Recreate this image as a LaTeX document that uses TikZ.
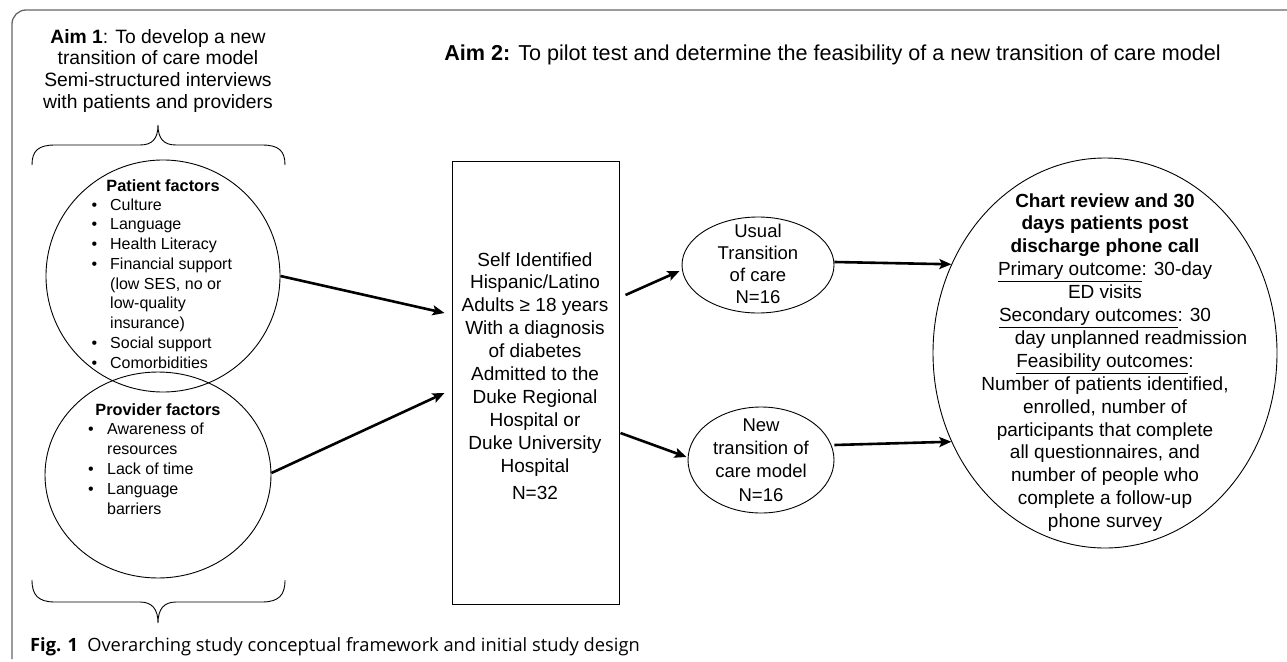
\documentclass[tikz,border=0pt]{standalone}
\usepackage{fontspec}
\setmainfont{Liberation Sans}
\newfontfamily\capfont{Open Sans}
\usetikzlibrary{shapes.geometric,arrows.meta}
\begin{document}
\begin{tikzpicture}[x=1pt,y=-1pt,
  ell/.style={draw,ellipse,line width=0.9pt,inner sep=0pt},
  arr/.style={line width=2.6pt,-{Stealth[length=12pt,width=10pt,inset=2.5pt]}},
  txt/.style={inner sep=0pt,align=center,anchor=north},
  lst/.style={inner sep=0pt,align=left,anchor=north west},
  brace/.style={line width=0.9pt},
  frame/.style={draw=black!60,line width=1.3pt}
]
\useasboundingbox (0,0) rectangle (1287,661);
% frame
\draw[frame,rounded corners=14pt] (12,659) -- (12,10) -- (1288,10);

% Aim texts
\node[txt,font=\fontsize{19.3}{21.7}\selectfont] (aim1) at (158,29.1)
  {\textbf{Aim 1}: To develop a new\\transition of care model\\Semi-structured interviews\\with patients and providers};
\node[inner sep=0pt,anchor=base,font=\fontsize{21.6}{24}\selectfont] (aim2) at (832.5,60)
  {\textbf{Aim 2:} To pilot test and determine the feasibility of a new transition of care model};

% braces
\draw[brace] (32,165) .. controls (32,151) and (38,145) .. (55,145) -- (140,145)
  .. controls (152,145) and (158,139) .. (158,125)
  .. controls (158,139) and (164,145) .. (176,145) -- (262,145)
  .. controls (279,145) and (285,151) .. (285,165);
\draw[brace] (32,580) .. controls (32,595) and (38,602) .. (55,602) -- (140,602)
  .. controls (152,602) and (158,609) .. (158,623)
  .. controls (158,609) and (164,602) .. (176,602) -- (262,602)
  .. controls (279,602) and (285,595) .. (285,580);

% patient / provider circles
\node[ell,minimum width=234pt,minimum height=232pt] (pc) at (163,276) {};
\node[ell,minimum width=226pt,minimum height=206pt] (pv) at (158,475) {};

\node[inner sep=0pt,anchor=base,font=\fontsize{16.3}{19}\selectfont\bfseries] (pctitle) at (163,191.9) {Patient factors};
\node[lst,font=\fontsize{16}{19.75}\selectfont] (pclist) at (91.5,198.3)
  {\makebox[18.5pt][l]{\textbullet}Culture\\
   \makebox[18.5pt][l]{\textbullet}Language\\
   \makebox[18.5pt][l]{\textbullet}Health Literacy\\
   \makebox[18.5pt][l]{\textbullet}Financial support\\
   \hspace*{18.5pt}(low SES, no or\\
   \hspace*{18.5pt}low-quality\\
   \hspace*{18.5pt}insurance)\\
   \makebox[18.5pt][l]{\textbullet}Social support\\
   \makebox[18.5pt][l]{\textbullet}Comorbidities};

\node[inner sep=0pt,anchor=base,font=\fontsize{16.3}{19}\selectfont\bfseries] (pvtitle) at (158,415.9) {Provider factors};
\node[lst,font=\fontsize{16}{20}\selectfont] (pvlist) at (88,422.3)
  {\makebox[19pt][l]{\textbullet}Awareness of\\
   \hspace*{19pt}resources\\
   \makebox[19pt][l]{\textbullet}Lack of time\\
   \makebox[19pt][l]{\textbullet}Language\\
   \hspace*{19pt}barriers};

% center rectangle
\node[draw,line width=1pt,minimum width=167pt,minimum height=443pt,inner sep=0pt] (rect) at (535.5,382.5) {};
\node[txt,font=\fontsize{19}{22.9}\selectfont] (recttext) at (535,252.1)
  {Self Identified\\Hispanic/Latino\\Adults ≥ 18 years\\With a diagnosis\\of diabetes\\Admitted to the\\Duke Regional\\Hospital or\\Duke University\\Hospital\\[4pt]N=32};

% small ellipses
\node[ell,minimum width=152pt,minimum height=96pt] (usual) at (758,265) {};
\node[txt,font=\fontsize{18.5}{22.3}\selectfont] (usualtext) at (758,223.4)
  {Usual\\Transition\\of care\\N=16};
\node[ell,minimum width=146pt,minimum height=106pt] (new) at (761,460) {};
\node[txt,font=\fontsize{18.5}{23.3}\selectfont] (newtext) at (761,418.4)
  {New\\transition of\\care model\\N=16};

% right ellipse
\node[ell,minimum width=344pt,minimum height=390pt] (ro) at (1105,353) {};
\node[txt,font=\fontsize{19}{22.9}\selectfont] (rotext) at (1105,193.1)
  {\textbf{Chart review and 30}\\\textbf{days patients post}\\\textbf{discharge phone call}\\
   \underline{Primary outcome}: 30-day\\ED visits\\
   \underline{Secondary outcomes}: 30\\\hspace*{52pt}day unplanned readmission\\
   \underline{Feasibility outcomes}:\hspace*{37pt}\\
   Number of patients identified,\\enrolled, number of\\participants that complete\\all questionnaires, and\\number of people who\\complete a follow-up\\phone survey};

% connectors
\draw[arr] (pc.east) -- ([xshift=-7pt,yshift=69.5pt]rect.west);
\draw[arr] ([yshift=2pt]pv.east) -- ([xshift=-7pt,yshift=-10.5pt]rect.west);
\draw[arr] ([xshift=6pt,yshift=87.5pt]rect.east) -- ([xshift=-2pt,yshift=-6pt]usual.west);
\draw[arr] ([xshift=1pt,yshift=-50.5pt]rect.east) -- ([xshift=-1pt,yshift=3pt]new.west);
\draw[arr] ([yshift=3pt]usual.east) -- (ro.150);
\draw[arr] ([yshift=15pt]new.east) -- (ro.210);

% caption
\node[inner sep=0pt,anchor=base west,font=\capfont\fontsize{18.3}{20}\selectfont] (caption) at (30,651.5)
  {\textbf{Fig. 1}\hspace{0.5em}Overarching study conceptual framework and initial study design};
\end{tikzpicture}
\end{document}
